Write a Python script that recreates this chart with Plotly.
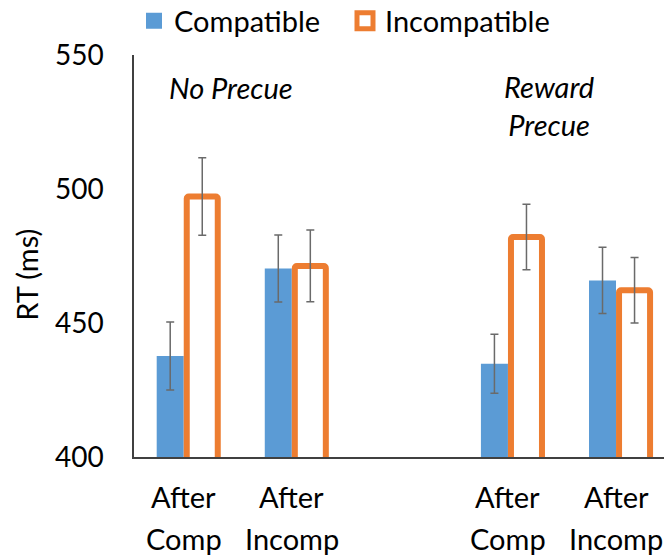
import plotly.graph_objects as go

# ---- data ----
panels = ["<i>No Precue</i>", "<i>Reward<br>Precue</i>"]
conditions_line1 = ["After", "After"]
conditions_line2 = ["Comp", "Incomp"]
series_names = ["Compatible", "Incompatible"]
compatible = [437.7, 470.3, 434.8, 465.9]
compatible_err = [12.7, 12.5, 11.0, 12.4]
incompatible = [497.2, 471.3, 482.1, 462.2]
incompatible_err = [14.5, 13.4, 12.2, 12.2]
y_ticks = [400, 450, 500, 550]
y_title = "RT (ms)"

BLUE = "#5B9BD5"
ORANGE = "#ED7D31"
ERR = "#6A6A6A"
FONT = "Lato"
FS = 29

# x positions: panel * 3 + condition (leaves an empty slot between panels)
xpos = [p * 3 + c for p in range(len(panels)) for c in range(len(conditions_line1))]

fig = go.Figure()
fig.add_trace(go.Bar(
    x=xpos, y=compatible, width=0.25, offset=-0.25,
    marker=dict(color=BLUE, line=dict(width=0)),
    error_y=dict(type="data", array=compatible_err, color=ERR, thickness=1.5, width=4),
    showlegend=False, name=series_names[0]))
fig.add_trace(go.Bar(
    x=xpos, y=incompatible, width=0.287, offset=0.028,
    marker=dict(color="white", line=dict(color=ORANGE, width=6), cornerradius=2),
    error_y=dict(type="data", array=incompatible_err, color=ERR, thickness=1.5, width=4),
    showlegend=False, name=series_names[1]))

# legend entries
fig.add_trace(go.Scatter(x=[None], y=[None], mode="markers", name=series_names[0],
                         marker=dict(symbol="square", size=18, color=BLUE)))
fig.add_trace(go.Scatter(x=[None], y=[None], mode="markers", name=series_names[1],
                         marker=dict(symbol="square", size=20, color="white",
                                     line=dict(color=ORANGE, width=5))))

annotations = []
for i, x in enumerate(xpos):
    c = i % len(conditions_line1)
    annotations.append(dict(x=x, y=-0.0995, xref="x", yref="paper", text=conditions_line1[c],
                            showarrow=False, xanchor="center", yanchor="middle", font=dict(size=FS)))
    annotations.append(dict(x=x, y=-0.2015, xref="x", yref="paper", text=conditions_line2[c],
                            showarrow=False, xanchor="center", yanchor="middle", font=dict(size=FS)))

annotations.append(dict(x=0.435, y=537.7, xref="x", yref="y", text=panels[0],
                        showarrow=False, xanchor="center", font=dict(size=FS)))
annotations.append(dict(x=3.38, y=531, xref="x", yref="y", text=panels[1],
                        showarrow=False, xanchor="center", font=dict(size=FS)))
annotations.append(dict(x=-0.202, y=0.453, xref="paper", yref="paper", text=y_title,
                        textangle=-90, showarrow=False, xanchor="center", yanchor="middle",
                        font=dict(size=FS)))

fig.update_layout(
    width=664, height=556,
    margin=dict(l=134, r=0, t=55, b=99, autoexpand=False),
    paper_bgcolor="white", plot_bgcolor="white",
    font=dict(family=FONT, size=FS, color="#000000"),
    barmode="overlay",
    showlegend=True,
    legend=dict(orientation="h", x=0.0, xanchor="left", y=1.0846, yanchor="middle",
                font=dict(size=FS), itemsizing="trace", bgcolor="rgba(0,0,0,0)",
                entrywidth=166, entrywidthmode="pixels"),
    annotations=annotations,
)
fig.update_xaxes(range=[-0.46, 4.444], showticklabels=False, showgrid=False, zeroline=False,
                 showline=True, linecolor="#404040", linewidth=1.5, ticks="")
fig.update_yaxes(range=[400, 550], tickvals=y_ticks, showgrid=False, zeroline=False,
                 showline=True, linecolor="#404040", linewidth=1.5, ticks="",
                 ticklabelstandoff=23, tickfont=dict(size=28))

fig.write_html("out.html", config={"displayModeBar": False},
               post_script="document.body.style.margin='0';")
